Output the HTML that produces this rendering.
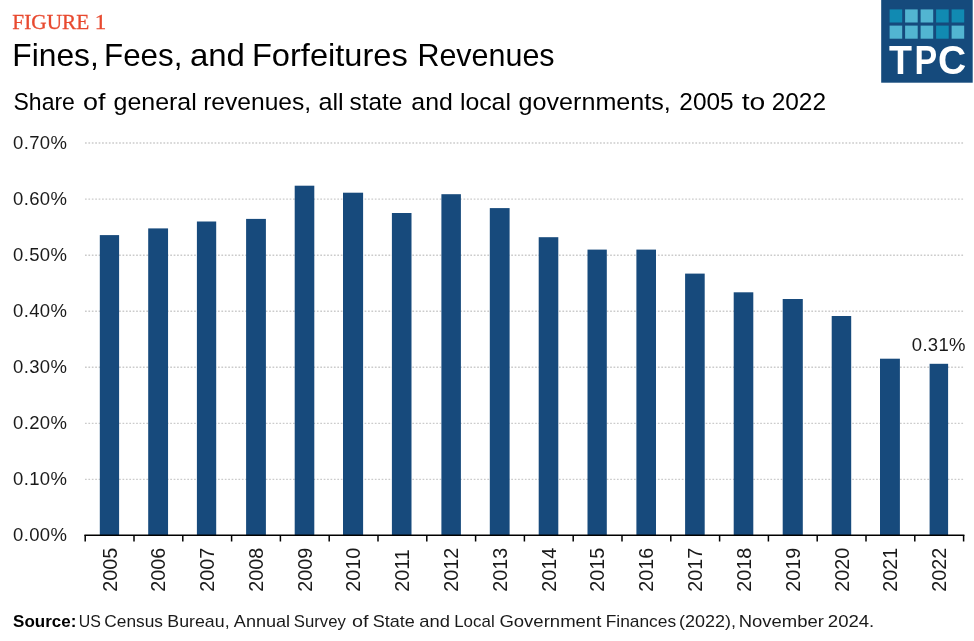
<!DOCTYPE html>
<html lang="en"><head><meta charset="utf-8"><title>Fines, Fees, and Forfeitures Revenues</title>
<style>
html,body{margin:0;padding:0;background:#fff;}
body{width:974px;height:641px;overflow:hidden;position:relative;}
svg{position:absolute;left:0;top:0;display:block;}
text{font-family:"Liberation Sans",sans-serif;fill:#1a1a1a;}
.serif{font-family:"Liberation Serif",serif;}
</style></head><body>
<svg width="974" height="641" viewBox="0 0 974 641">
<rect width="974" height="641" fill="#ffffff"/>
<text class="serif" y="28.6" font-size="21" style="fill:#e8492f" stroke="#e8492f" stroke-width="0.3"><tspan x="12.39" textLength="76.97" lengthAdjust="spacingAndGlyphs">FIGURE</tspan> <tspan x="94.81" textLength="11.52" lengthAdjust="spacingAndGlyphs">1</tspan></text>
<text y="66.1" font-size="31.5" style="fill:#000000"><tspan x="12.29" textLength="86.51" lengthAdjust="spacingAndGlyphs">Fines,</tspan> <tspan x="104.03" textLength="78.33" lengthAdjust="spacingAndGlyphs">Fees,</tspan> <tspan x="189.92" textLength="55.02" lengthAdjust="spacingAndGlyphs">and</tspan> <tspan x="251.92" textLength="155.90" lengthAdjust="spacingAndGlyphs">Forfeitures</tspan> <tspan x="417.40" textLength="137.17" lengthAdjust="spacingAndGlyphs">Revenues</tspan></text>
<text y="109.75" font-size="24.5" style="fill:#000000"><tspan x="13.52" textLength="61.36" lengthAdjust="spacingAndGlyphs">Share</tspan> <tspan x="83.12" textLength="22.42" lengthAdjust="spacingAndGlyphs">of</tspan> <tspan x="113.52" textLength="83.24" lengthAdjust="spacingAndGlyphs">general</tspan> <tspan x="203.15" textLength="108.01" lengthAdjust="spacingAndGlyphs">revenues,</tspan> <tspan x="318.42" textLength="25.28" lengthAdjust="spacingAndGlyphs">all</tspan> <tspan x="349.55" textLength="52.79" lengthAdjust="spacingAndGlyphs">state</tspan> <tspan x="411.33" textLength="41.52" lengthAdjust="spacingAndGlyphs">and</tspan> <tspan x="459.92" textLength="51.02" lengthAdjust="spacingAndGlyphs">local</tspan> <tspan x="518.61" textLength="152.22" lengthAdjust="spacingAndGlyphs">governments,</tspan> <tspan x="679.35" textLength="54.33" lengthAdjust="spacingAndGlyphs">2005</tspan> <tspan x="741.75" textLength="23.55" lengthAdjust="spacingAndGlyphs">to</tspan> <tspan x="771.65" textLength="54.48" lengthAdjust="spacingAndGlyphs">2022</tspan></text>
<text y="627.2" font-size="17" style="fill:#000000"><tspan x="13.12" textLength="63.22" lengthAdjust="spacingAndGlyphs" font-weight="700">Source:</tspan> <tspan x="78.86" textLength="22.05" lengthAdjust="spacingAndGlyphs" style="fill:#1a1a1a">US</tspan> <tspan x="104.28" textLength="58.67" lengthAdjust="spacingAndGlyphs" style="fill:#1a1a1a">Census</tspan> <tspan x="167.33" textLength="62.25" lengthAdjust="spacingAndGlyphs" style="fill:#1a1a1a">Bureau,</tspan> <tspan x="233.83" textLength="56.31" lengthAdjust="spacingAndGlyphs" style="fill:#1a1a1a">Annual</tspan> <tspan x="293.86" textLength="52.01" lengthAdjust="spacingAndGlyphs" style="fill:#1a1a1a">Survey</tspan> <tspan x="352.13" textLength="16.50" lengthAdjust="spacingAndGlyphs" style="fill:#1a1a1a">of</tspan> <tspan x="372.77" textLength="42.11" lengthAdjust="spacingAndGlyphs" style="fill:#1a1a1a">State</tspan> <tspan x="419.28" textLength="30.66" lengthAdjust="spacingAndGlyphs" style="fill:#1a1a1a">and</tspan> <tspan x="454.20" textLength="40.45" lengthAdjust="spacingAndGlyphs" style="fill:#1a1a1a">Local</tspan> <tspan x="499.41" textLength="101.89" lengthAdjust="spacingAndGlyphs" style="fill:#1a1a1a">Government</tspan> <tspan x="605.67" textLength="70.49" lengthAdjust="spacingAndGlyphs" style="fill:#1a1a1a">Finances</tspan> <tspan x="679.05" textLength="56.97" lengthAdjust="spacingAndGlyphs" style="fill:#1a1a1a">(2022),</tspan> <tspan x="738.68" textLength="85.15" lengthAdjust="spacingAndGlyphs" style="fill:#1a1a1a">November</tspan> <tspan x="827.81" textLength="46.49" lengthAdjust="spacingAndGlyphs" style="fill:#1a1a1a">2024.</tspan></text>
<g>
<rect x="881.2" y="0" width="91.5" height="82.7" fill="#154a7c"/>
<rect x="889.60" y="9.4" width="12.6" height="13.1" fill="#118ab2"/>
<rect x="905.10" y="9.4" width="12.6" height="13.1" fill="#52b5d1"/>
<rect x="920.60" y="9.4" width="12.6" height="13.1" fill="#52b5d1"/>
<rect x="936.10" y="9.4" width="12.6" height="13.1" fill="#118ab2"/>
<rect x="951.60" y="9.4" width="12.6" height="13.1" fill="#118ab2"/>
<rect x="889.60" y="25.6" width="12.6" height="13.1" fill="#52b5d1"/>
<rect x="905.10" y="25.6" width="12.6" height="13.1" fill="#52b5d1"/>
<rect x="920.60" y="25.6" width="12.6" height="13.1" fill="#52b5d1"/>
<rect x="936.10" y="25.6" width="12.6" height="13.1" fill="#118ab2"/>
<rect x="951.60" y="25.6" width="12.6" height="13.1" fill="#52b5d1"/>
<text y="74.3" font-size="40" style="fill:#ffffff"><tspan x="888.97" textLength="22.95" lengthAdjust="spacingAndGlyphs" font-weight="700">T</tspan><tspan x="914.38" textLength="22.68" lengthAdjust="spacingAndGlyphs" font-weight="700">P</tspan><tspan x="938.08" textLength="28.18" lengthAdjust="spacingAndGlyphs" font-weight="700">C</tspan></text>
</g>
<line x1="85" y1="143.06" x2="963.5" y2="143.06" stroke="#cbcbcb" stroke-width="1.4" stroke-dasharray="1.7 1.71"/>
<line x1="85" y1="199.12" x2="963.5" y2="199.12" stroke="#cbcbcb" stroke-width="1.4" stroke-dasharray="1.7 1.71"/>
<line x1="85" y1="255.18" x2="963.5" y2="255.18" stroke="#cbcbcb" stroke-width="1.4" stroke-dasharray="1.7 1.71"/>
<line x1="85" y1="311.24" x2="963.5" y2="311.24" stroke="#cbcbcb" stroke-width="1.4" stroke-dasharray="1.7 1.71"/>
<line x1="85" y1="367.3" x2="963.5" y2="367.3" stroke="#cbcbcb" stroke-width="1.4" stroke-dasharray="1.7 1.71"/>
<line x1="85" y1="423.36" x2="963.5" y2="423.36" stroke="#cbcbcb" stroke-width="1.4" stroke-dasharray="1.7 1.71"/>
<line x1="85" y1="479.42" x2="963.5" y2="479.42" stroke="#cbcbcb" stroke-width="1.4" stroke-dasharray="1.7 1.71"/>
<text x="13" y="148.66" font-size="18.5" textLength="54" lengthAdjust="spacing">0.70%</text>
<text x="13" y="204.72" font-size="18.5" textLength="54" lengthAdjust="spacing">0.60%</text>
<text x="13" y="260.78" font-size="18.5" textLength="54" lengthAdjust="spacing">0.50%</text>
<text x="13" y="316.84" font-size="18.5" textLength="54" lengthAdjust="spacing">0.40%</text>
<text x="13" y="372.90" font-size="18.5" textLength="54" lengthAdjust="spacing">0.30%</text>
<text x="13" y="428.96" font-size="18.5" textLength="54" lengthAdjust="spacing">0.20%</text>
<text x="13" y="485.02" font-size="18.5" textLength="54" lengthAdjust="spacing">0.10%</text>
<text x="13" y="541.08" font-size="18.5" textLength="54" lengthAdjust="spacing">0.00%</text>
<rect x="99.80" y="235.1" width="19.3" height="299.9" fill="#174a7c"/>
<rect x="148.20" y="228.4" width="19.85" height="306.6" fill="#174a7c"/>
<rect x="196.90" y="221.5" width="19.3" height="313.5" fill="#174a7c"/>
<rect x="246.10" y="218.9" width="19.8" height="316.1" fill="#174a7c"/>
<rect x="294.70" y="185.7" width="19.6" height="349.3" fill="#174a7c"/>
<rect x="343.00" y="192.7" width="20.1" height="342.3" fill="#174a7c"/>
<rect x="391.90" y="213.0" width="19.6" height="322.0" fill="#174a7c"/>
<rect x="441.40" y="194.2" width="19.5" height="340.8" fill="#174a7c"/>
<rect x="489.80" y="208.1" width="19.8" height="326.9" fill="#174a7c"/>
<rect x="538.70" y="237.2" width="19.6" height="297.8" fill="#174a7c"/>
<rect x="587.50" y="249.6" width="19.3" height="285.4" fill="#174a7c"/>
<rect x="636.40" y="249.6" width="19.6" height="285.4" fill="#174a7c"/>
<rect x="685.10" y="273.6" width="19.6" height="261.4" fill="#174a7c"/>
<rect x="733.70" y="292.3" width="19.6" height="242.7" fill="#174a7c"/>
<rect x="782.70" y="299.0" width="20.1" height="236.0" fill="#174a7c"/>
<rect x="831.70" y="316.0" width="19.5" height="219.0" fill="#174a7c"/>
<rect x="880.00" y="358.7" width="19.9" height="176.3" fill="#174a7c"/>
<rect x="929.60" y="363.8" width="18.5" height="171.2" fill="#174a7c"/>
<line x1="84.4" y1="535.2" x2="964.4" y2="535.2" stroke="#000" stroke-width="1.5"/>
<line x1="85.20" y1="535" x2="85.20" y2="541.5" stroke="#000" stroke-width="1.5"/>
<line x1="134.00" y1="535" x2="134.00" y2="541.5" stroke="#000" stroke-width="1.5"/>
<line x1="182.80" y1="535" x2="182.80" y2="541.5" stroke="#000" stroke-width="1.5"/>
<line x1="231.60" y1="535" x2="231.60" y2="541.5" stroke="#000" stroke-width="1.5"/>
<line x1="280.40" y1="535" x2="280.40" y2="541.5" stroke="#000" stroke-width="1.5"/>
<line x1="329.20" y1="535" x2="329.20" y2="541.5" stroke="#000" stroke-width="1.5"/>
<line x1="378.00" y1="535" x2="378.00" y2="541.5" stroke="#000" stroke-width="1.5"/>
<line x1="426.80" y1="535" x2="426.80" y2="541.5" stroke="#000" stroke-width="1.5"/>
<line x1="475.60" y1="535" x2="475.60" y2="541.5" stroke="#000" stroke-width="1.5"/>
<line x1="524.40" y1="535" x2="524.40" y2="541.5" stroke="#000" stroke-width="1.5"/>
<line x1="573.20" y1="535" x2="573.20" y2="541.5" stroke="#000" stroke-width="1.5"/>
<line x1="622.00" y1="535" x2="622.00" y2="541.5" stroke="#000" stroke-width="1.5"/>
<line x1="670.80" y1="535" x2="670.80" y2="541.5" stroke="#000" stroke-width="1.5"/>
<line x1="719.60" y1="535" x2="719.60" y2="541.5" stroke="#000" stroke-width="1.5"/>
<line x1="768.40" y1="535" x2="768.40" y2="541.5" stroke="#000" stroke-width="1.5"/>
<line x1="817.20" y1="535" x2="817.20" y2="541.5" stroke="#000" stroke-width="1.5"/>
<line x1="866.00" y1="535" x2="866.00" y2="541.5" stroke="#000" stroke-width="1.5"/>
<line x1="914.80" y1="535" x2="914.80" y2="541.5" stroke="#000" stroke-width="1.5"/>
<line x1="963.60" y1="535" x2="963.60" y2="541.5" stroke="#000" stroke-width="1.5"/>
<text transform="translate(116.55 591.8) rotate(-90)" font-size="19.8">2005</text>
<text transform="translate(165.22 591.8) rotate(-90)" font-size="19.8">2006</text>
<text transform="translate(213.65 591.8) rotate(-90)" font-size="19.8">2007</text>
<text transform="translate(263.10 591.8) rotate(-90)" font-size="19.8">2008</text>
<text transform="translate(311.60 591.8) rotate(-90)" font-size="19.8">2009</text>
<text transform="translate(360.15 591.8) rotate(-90)" font-size="19.8">2010</text>
<text transform="translate(408.80 591.8) rotate(-90)" font-size="19.8">2011</text>
<text transform="translate(458.25 591.8) rotate(-90)" font-size="19.8">2012</text>
<text transform="translate(506.80 591.8) rotate(-90)" font-size="19.8">2013</text>
<text transform="translate(555.60 591.8) rotate(-90)" font-size="19.8">2014</text>
<text transform="translate(604.25 591.8) rotate(-90)" font-size="19.8">2015</text>
<text transform="translate(653.30 591.8) rotate(-90)" font-size="19.8">2016</text>
<text transform="translate(702.00 591.8) rotate(-90)" font-size="19.8">2017</text>
<text transform="translate(750.60 591.8) rotate(-90)" font-size="19.8">2018</text>
<text transform="translate(799.85 591.8) rotate(-90)" font-size="19.8">2019</text>
<text transform="translate(848.55 591.8) rotate(-90)" font-size="19.8">2020</text>
<text transform="translate(897.05 591.8) rotate(-90)" font-size="19.8">2021</text>
<text transform="translate(945.95 591.8) rotate(-90)" font-size="19.8">2022</text>
<text x="911.8" y="351" font-size="18.5" textLength="53.7" lengthAdjust="spacing">0.31%</text>
</svg>
</body></html>
